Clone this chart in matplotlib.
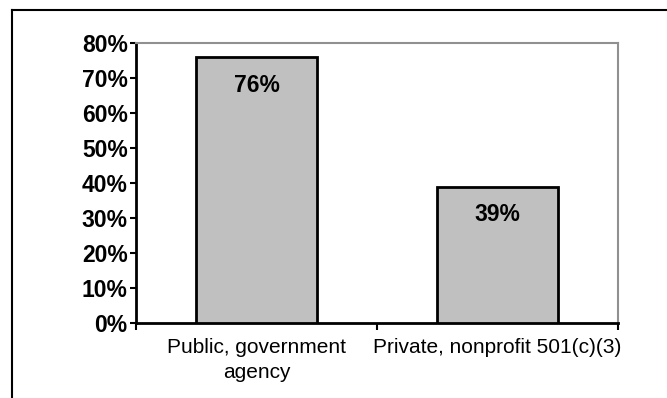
import matplotlib.pyplot as plt
from matplotlib.lines import Line2D

# organisation type vs. share of respondents
categories = ['Public, government\nagency', 'Private, nonprofit 501(c)(3)']
shares = [76, 39]
y_ticks = [0, 10, 20, 30, 40, 50, 60, 70, 80]

plt.rcParams['font.family'] = ['Liberation Sans', 'DejaVu Sans']

W, H = 667, 398
fig = plt.figure(figsize=(W / 100, H / 100), dpi=100)
ax = fig.add_axes([136 / W, 1 - 323 / H, 482 / W, 280 / H])

x = range(len(categories))
bars = ax.bar(x, shares, width=0.5, color='#c0c0c0', edgecolor='black', linewidth=2, zorder=3)

for xi, v in zip(x, shares):
    ax.text(xi, v - 8.0, f'{v}%', ha='center', va='center', fontsize=16.5, fontweight='bold')

ax.set_xlim(-0.5, len(categories) - 0.5)
ax.set_ylim(0, 80)
ax.set_yticks(y_ticks)
ax.set_yticklabels([f'{t}%' for t in y_ticks], fontsize=16.5, fontweight='bold')

# category boundaries get the tick marks, labels sit under the bars
ax.set_xticks([i - 0.5 for i in range(len(categories) + 1)])
ax.set_xticklabels([])
ax.tick_params(axis='x', direction='out', length=5, width=1.5, color='black')
ax.tick_params(axis='y', direction='out', length=4, width=1.5, color='black', pad=2)
for xi, lab in zip(x, categories):
    ax.text(xi, -4.2, lab, ha='center', va='top', fontsize=15, linespacing=1.4)

for side in ('left', 'bottom'):
    ax.spines[side].set_color('black')
    ax.spines[side].set_linewidth(2)
for side in ('top', 'right'):
    ax.spines[side].set_color('#909090')
    ax.spines[side].set_linewidth(1.5)

# outer chart frame (only top and left edges fall inside the image)
fig.add_artist(Line2D([11.5 / W, 1.0], [1 - 9.5 / H, 1 - 9.5 / H], color='black', lw=1.5))
fig.add_artist(Line2D([11.5 / W, 11.5 / W], [0, 1 - 9.5 / H], color='black', lw=1.5))

fig.savefig('out.png', dpi=100)
